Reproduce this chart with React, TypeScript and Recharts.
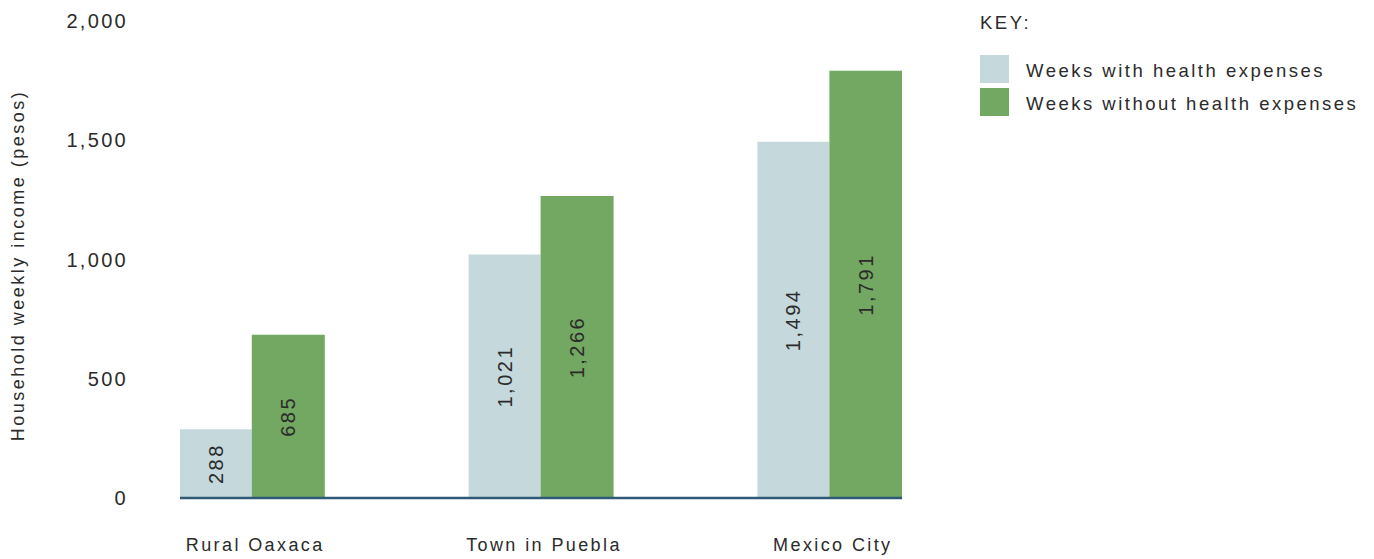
import React from 'react';
import { BarChart, Bar, XAxis, YAxis, LabelList } from 'recharts';

const categories = ['Rural Oaxaca', 'Town in Puebla', 'Mexico City'];
const withHealth = [288, 1021, 1494];
const withoutHealth = [685, 1266, 1791];
const yTicks = [0, 500, 1000, 1500, 2000];
const seriesNames = ['Weeks with health expenses', 'Weeks without health expenses'];

const COLOR_WITH = '#c5d8db';
const COLOR_WITHOUT = '#72a862';
const TEXT = '#2b2b2b';
const FONT = '"Liberation Sans", Arial, sans-serif';

const data = categories.map((c, i) => ({ x: i, name: c, withHealth: withHealth[i], withoutHealth: withoutHealth[i] }));

const fmt = (v: number) => v.toLocaleString('en-US');

const LegendBox = () => (
  <div style={{ position: 'absolute', left: 972, top: 5, width: 394, fontFamily: FONT, fontSize: 18.5, color: TEXT, letterSpacing: 2.5 }}>
    <div style={{ height: 20, lineHeight: '20px' }}>KEY:</div>
    <div style={{ height: 22 }} />
    {seriesNames.map((n, i) => (
      <div key={n} style={{ display: 'flex', alignItems: 'center', height: 28, marginBottom: 5 }}>
        <div style={{ width: 29, height: 28, background: i === 0 ? COLOR_WITH : COLOR_WITHOUT }} />
        <div style={{ marginLeft: 17, lineHeight: '28px', paddingTop: 4, whiteSpace: 'nowrap' }}>{n}</div>
      </div>
    ))}
  </div>
);

const YLabel = (props: any) => {
  const vb = props.viewBox || {};
  const x = (vb.x || 0) + 10;
  const y = (vb.y || 0) + (vb.height || 0) / 2 + 6;
  return (
    <text
      x={x}
      y={y}
      transform={`rotate(-90, ${x}, ${y})`}
      textAnchor="middle"
      dominantBaseline="central"
      fill={TEXT}
      style={{ fontFamily: FONT, fontSize: 18, letterSpacing: 2.5 }}
    >
      Household weekly income (pesos)
    </text>
  );
};

export default function App() {
  return (
    <div style={{ position: 'relative', width: 1366, height: 551 }}>
      <BarChart
        width={1366}
        height={551}
        data={data}
        margin={{ top: 13, right: 472, bottom: 31, left: 0 }}
        barGap={0}
      >
        <XAxis
          type="number"
          dataKey="x"
          domain={[-0.25, 2.25]}
          ticks={[0, 1, 2]}
          tickFormatter={(v: number) => categories[v]}
          tickLine={false}
          tickMargin={34}
          axisLine={{ stroke: '#2e5a78', strokeWidth: 2.5 }}
          tick={{ fill: TEXT, fontSize: 18, fontFamily: FONT, letterSpacing: 2.4, dx: 3 }}
          allowDataOverflow
        />
        <YAxis
          type="number"
          domain={[0, 2000]}
          ticks={yTicks}
          width={172}
          axisLine={false}
          tickLine={false}
          tickMargin={46}
          tickFormatter={fmt}
          tick={{ fill: TEXT, fontSize: 20, fontFamily: FONT, letterSpacing: 2.3 }}
          label={<YLabel />}
        />
        <Bar dataKey="withHealth" name={seriesNames[0]} fill={COLOR_WITH} barSize={72} isAnimationActive={false}>
          <LabelList
            dataKey="withHealth"
            position="center"
            angle={-90}
            formatter={fmt}
            fill={TEXT}
            style={{ fontFamily: FONT, fontSize: 20, letterSpacing: 2.5 }}
          />
        </Bar>
        <Bar dataKey="withoutHealth" name={seriesNames[1]} fill={COLOR_WITHOUT} barSize={73} isAnimationActive={false}>
          <LabelList
            dataKey="withoutHealth"
            position="center"
            angle={-90}
            formatter={fmt}
            fill={TEXT}
            style={{ fontFamily: FONT, fontSize: 20, letterSpacing: 2.5 }}
          />
        </Bar>
      </BarChart>
      <LegendBox />
    </div>
  );
}
